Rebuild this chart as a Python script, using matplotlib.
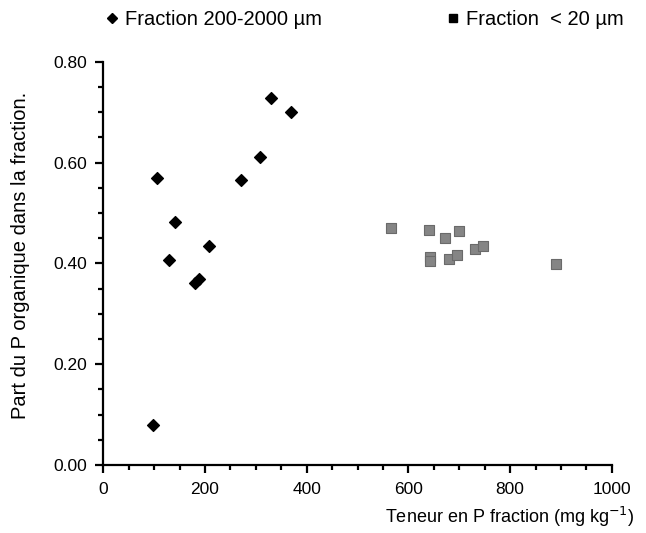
import matplotlib.pyplot as plt
from matplotlib.lines import Line2D
from matplotlib.ticker import MultipleLocator, FormatStrFormatter

plt.rcParams['font.family'] = ['Liberation Sans', 'DejaVu Sans']

# Fraction 200-2000 um (black diamonds)
coarse_x = [106, 330, 370, 308, 271, 141, 130, 208, 180, 188, 98]
coarse_y = [0.569, 0.728, 0.700, 0.611, 0.565, 0.482, 0.407, 0.435, 0.362, 0.368, 0.079]

# Fraction < 20 um (grey squares)
fine_x = [566, 641, 672, 700, 642, 642, 680, 695, 731, 747, 891]
fine_y = [0.471, 0.467, 0.450, 0.465, 0.413, 0.405, 0.408, 0.417, 0.429, 0.435, 0.398]

labels = ["Fraction 200-2000 \u00b5m", "Fraction  < 20 \u00b5m"]

fig = plt.figure(figsize=(6.46, 5.33), dpi=100)
ax = fig.add_axes([0.16, 0.1276, 0.787, 0.7566])

ax.scatter(coarse_x, coarse_y, marker='D', s=36, color='black', zorder=3)
ax.scatter(fine_x, fine_y, marker='s', s=42, color='#858585',
           edgecolor='#6a6a6a', linewidth=0.8, zorder=3)

ax.set_xlim(0, 1000)
ax.set_ylim(0, 0.80)
ax.xaxis.set_major_locator(MultipleLocator(200))
ax.xaxis.set_minor_locator(MultipleLocator(50))
ax.yaxis.set_major_locator(MultipleLocator(0.2))
ax.yaxis.set_minor_locator(MultipleLocator(0.05))
ax.yaxis.set_major_formatter(FormatStrFormatter('%.2f'))

for side in ['top', 'right']:
    ax.spines[side].set_visible(False)
for side in ['left', 'bottom']:
    ax.spines[side].set_linewidth(1.6)

ax.tick_params(which='major', direction='out', length=6, width=1.6,
               labelsize=12.5, pad=6)
ax.tick_params(which='minor', direction='out', length=3.5, width=1.6)

ax.set_ylabel("Part du P organique dans la fraction.", fontsize=14.5)
ax.yaxis.set_label_coords(-0.145, 0.52)

ax.set_xlabel("Teneur en P fraction (mg kg$^{-1}$)", fontsize=13)
ax.xaxis.label.set_ha('right')
ax.xaxis.set_label_coords(1.045, -0.1)

handles = [
    Line2D([], [], marker='D', linestyle='none', color='black', markersize=5),
    Line2D([], [], marker='s', linestyle='none', color='black', markersize=6),
]
fig.legend(handles, labels, loc='center left', bbox_to_anchor=(0.152, 0.963),
           ncol=2, frameon=False, fontsize=14.5, handlelength=0.6,
           handletextpad=0.35, columnspacing=6.2, borderaxespad=0)

fig.savefig('out.png', dpi=100)
